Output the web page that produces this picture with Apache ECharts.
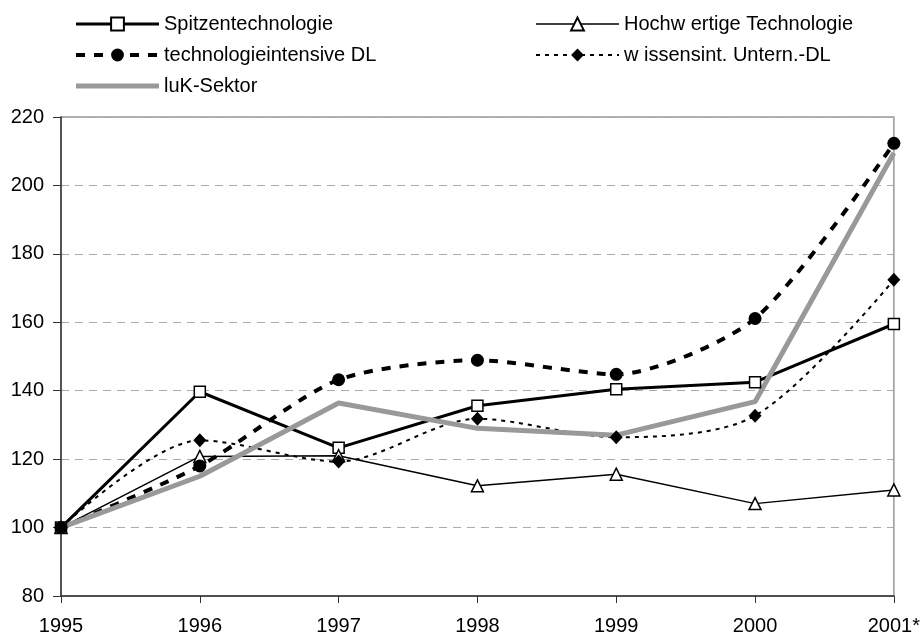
<!DOCTYPE html>
<html>
<head>
<meta charset="utf-8">
<script src="https://cdn.jsdelivr.net/npm/echarts@6/dist/echarts.min.js"></script>
<style>
  html, body { margin: 0; padding: 0; background: #fff; }
  #main { width: 923px; height: 637px; }
</style>
</head>
<body>
<div id="main"></div>
<script>
// Jahre (x-Achse)
var years = ['1995', '1996', '1997', '1998', '1999', '2000', '2001*']
// Index-Werte, 1995 = 100
var spitzen = [100, 139.7, 123.3, 135.6, 140.4, 142.5, 159.5]
var hochwertig = [100, 120.8, 121, 112.2, 115.6, 107, 111]
var techDL = [100, 118, 143.2, 148.9, 144.8, 161.1, 212.3]
var wissensDL = [100, 125.5, 119.3, 131.8, 126.4, 132.7, 172.4]
var iuk = [100, 115, 136.4, 129, 127, 136.8, 209.5]
var yTicks = [80, 100, 120, 140, 160, 180, 200, 220]

var names = ['Spitzentechnologie', 'Hochw ertige Technologie', 'technologieintensive DL', 'w issensint. Untern.-DL', 'luK-Sektor']
var font = 'Arial, "Liberation Sans", sans-serif'

var legendText = { fontSize: 20, color: '#000', lineHeight: 20, fontFamily: font }

var myChart = echarts.init(document.getElementById('main'))
myChart.setOption({
  animation: false,
  textStyle: { fontFamily: font },
  legend: [
    {
      left: 69,
      top: 9,
      orient: 'vertical',
      itemWidth: 83,
      itemHeight: 16,
      itemGap: 11,
      lineStyle: { width: 'inherit' },
      textStyle: legendText,
      data: [
        { name: names[0] },
        { name: names[2] },
        // grauer Balken ohne Symbol
        { name: names[4], icon: 'path://M0,0L100,0L100,6L0,6Z' }
      ]
    },
    {
      left: 530,
      top: 9,
      orient: 'vertical',
      itemWidth: 83,
      itemHeight: 16,
      itemGap: 11,
      lineStyle: { width: 'inherit' },
      textStyle: legendText,
      data: [names[1], names[3]]
    }
  ],
  grid: {
    left: 61,
    right: 28,
    top: 117,
    bottom: 41,
    show: true,
    borderColor: '#999',
    borderWidth: 1.5
  },
  xAxis: {
    type: 'category',
    boundaryGap: false,
    data: years,
    axisLine: { lineStyle: { color: '#333', width: 1.5 } },
    axisTick: { show: true, length: 7, lineStyle: { color: '#333' } },
    axisLabel: { color: '#000', fontSize: 20, margin: 20, fontFamily: font },
    splitLine: { show: false }
  },
  yAxis: {
    type: 'value',
    min: yTicks[0],
    max: yTicks[yTicks.length - 1],
    interval: 20,
    axisLine: { show: true, lineStyle: { color: '#333', width: 1.5 } },
    axisTick: { show: true, length: 8, lineStyle: { color: '#333' } },
    axisLabel: { color: '#000', fontSize: 20, margin: 17, fontFamily: font },
    splitLine: {
      show: true,
      lineStyle: { color: '#aaa', type: [8, 6], width: 1 }
    }
  },
  series: [
    {
      name: names[0],
      type: 'line',
      data: spitzen,
      symbol: 'rect',
      symbolSize: 11,
      itemStyle: { color: '#fff', borderColor: '#000', borderWidth: 1.5 },
      lineStyle: { color: '#000', width: 3 }
    },
    {
      name: names[1],
      type: 'line',
      data: hochwertig,
      symbol: 'triangle',
      symbolSize: 12,
      itemStyle: { color: '#fff', borderColor: '#000', borderWidth: 1.5 },
      lineStyle: { color: '#000', width: 1.5 }
    },
    {
      name: names[2],
      type: 'line',
      data: techDL,
      smooth: 0.25,
      symbol: 'circle',
      symbolSize: 13,
      itemStyle: { color: '#000' },
      lineStyle: { color: '#000', width: 4, type: [9, 9] }
    },
    {
      name: names[3],
      type: 'line',
      data: wissensDL,
      smooth: 0.3,
      symbol: 'diamond',
      symbolSize: [13, 14],
      itemStyle: { color: '#000' },
      lineStyle: { color: '#000', width: 2, type: [4, 5] }
    },
    {
      name: names[4],
      type: 'line',
      data: iuk,
      symbol: 'none',
      itemStyle: { color: '#999' },
      lineStyle: { color: '#999', width: 5 }
    }
  ]
})
</script>
</body>
</html>
